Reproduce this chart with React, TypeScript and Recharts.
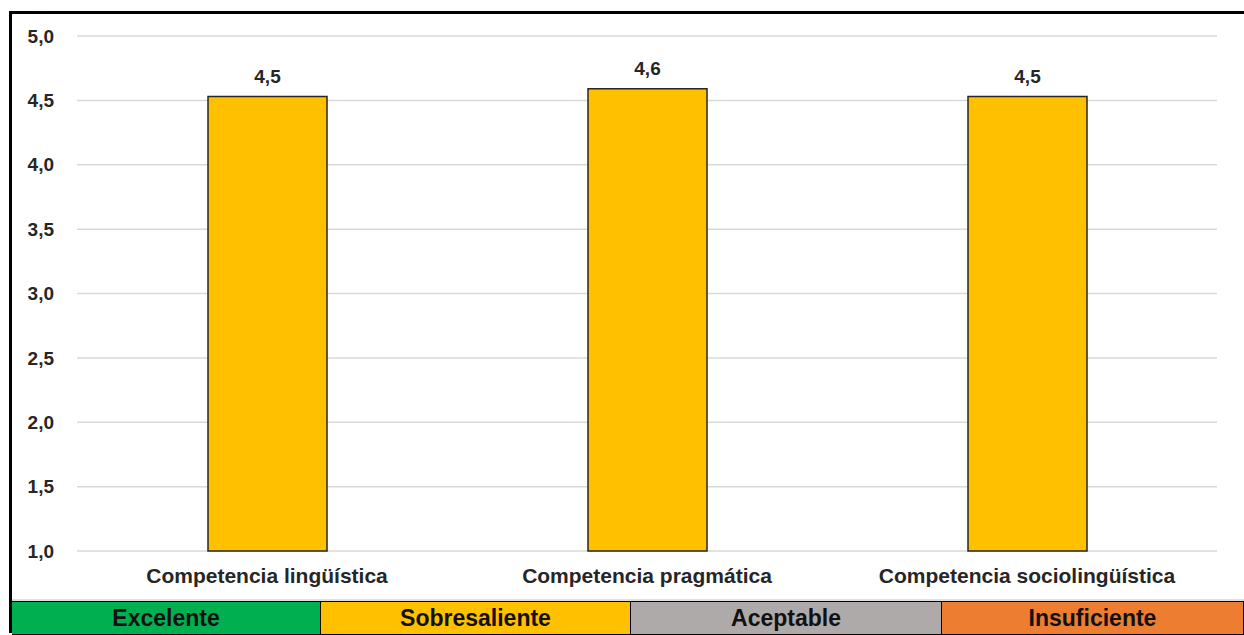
import { BarChart, Bar, XAxis, YAxis, CartesianGrid, LabelList } from 'recharts'

const categories = ['Competencia lingüística', 'Competencia pragmática', 'Competencia sociolingüística']
const scores = [4.53, 4.59, 4.53]
const yTicks = [1, 1.5, 2, 2.5, 3, 3.5, 4, 4.5, 5]

const levels = ['Excelente', 'Sobresaliente', 'Aceptable', 'Insuficiente']
const levelColors = ['#00B050', '#FFC000', '#AEAAAA', '#ED7D31']

const data = categories.map((name, i) => ({ name, score: scores[i] }))

const FONT = '"Liberation Sans", Arial, sans-serif'
const comma = (v: number) => v.toFixed(1).replace('.', ',')

// widths of the rating-scale cells, left to right
const CELL_WIDTHS = [308, 310, 311, 302]

export default function App() {
  return (
    <div
      style={{
        position: 'absolute',
        left: 0,
        top: 0,
        width: 1244,
        height: 635,
        overflow: 'hidden',
        background: '#fff',
        fontFamily: FONT,
      }}
    >
      {/* black frame: top and left edges only */}
      <div
        style={{
          position: 'absolute',
          left: 9,
          top: 11,
          width: 1250,
          height: 622,
          borderTop: '3px solid #000',
          borderLeft: '3px solid #000',
          boxSizing: 'border-box',
        }}
      />

      <div style={{ position: 'absolute', left: 0, top: 0 }}>
        <BarChart
          width={1244}
          height={600}
          data={data}
          margin={{ top: 36, right: 27, left: 17, bottom: 19 }}
        >
          <CartesianGrid vertical={false} stroke="#D9D9D9" strokeWidth={1.5} />
          <XAxis
            dataKey="name"
            height={30}
            axisLine={false}
            tickLine={false}
            tickSize={0}
            tickMargin={17}
            interval={0}
            tick={{ fill: '#262626', fontSize: 21, fontWeight: 700, fontFamily: FONT }}
          />
          <YAxis
            width={60}
            domain={[1, 5]}
            ticks={yTicks}
            axisLine={false}
            tickLine={false}
            tickSize={0}
            tickMargin={23}
            tickFormatter={comma}
            tick={{ fill: '#262626', fontSize: 19, fontWeight: 700, fontFamily: FONT }}
          />
          <Bar
            dataKey="score"
            fill="#FFC000"
            stroke="#262626"
            strokeWidth={1.5}
            barSize={119}
            isAnimationActive={false}
          >
            <LabelList
              dataKey="score"
              position="top"
              offset={14}
              formatter={(v: any) => comma(Number(v))}
              style={{ fill: '#262626', fontSize: 19, fontWeight: 700, fontFamily: FONT }}
            />
          </Bar>
        </BarChart>
      </div>

      {/* rating scale strip */}
      <div
        style={{
          position: 'absolute',
          left: 12,
          top: 599,
          width: 1232,
          height: 2,
          background: '#E0E0E0',
        }}
      />
      <div
        style={{
          position: 'absolute',
          left: 12,
          top: 601,
          height: 32,
          display: 'flex',
          borderTop: '1px solid #000',
          borderBottom: '1px solid #000',
          borderRight: '1px solid #000',
        }}
      >
        {levels.map((lvl, i) => (
          <div
            key={lvl}
            style={{
              width: CELL_WIDTHS[i],
              boxSizing: 'border-box',
              background: levelColors[i],
              borderLeft: i === 0 ? 'none' : '1px solid #000',
              display: 'flex',
              alignItems: 'center',
              justifyContent: 'center',
              fontSize: 23,
              fontWeight: 700,
              color: '#111',
            }}
          >
            {lvl}
          </div>
        ))}
      </div>
    </div>
  )
}
